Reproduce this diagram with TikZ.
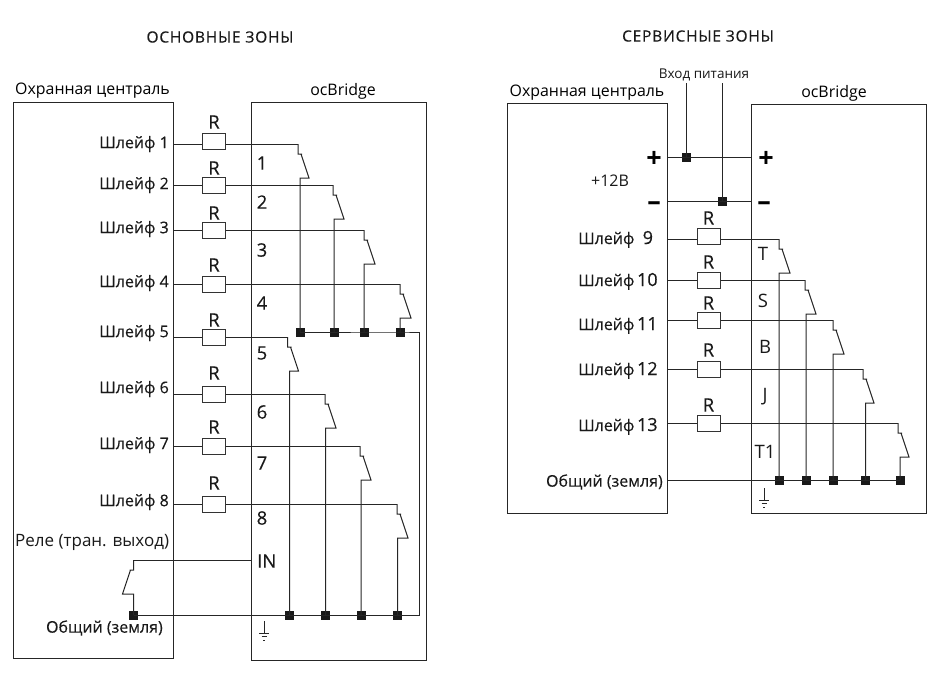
\documentclass[tikz,border=0pt]{standalone}
\usepackage{fontspec}
\setmainfont{Open Sans}
\tikzset{
    wire/.style={line width=1pt, black!85},
    box/.style={line width=0.9pt, black!85},
    res/.style={draw=black!80, line width=1pt, fill=white, minimum width=23pt, minimum height=16pt, inner sep=0pt},
    junction/.style={fill=black!90, minimum size=9pt, inner sep=0pt},
    txt/.style={font=\fontsize{16}{16}\selectfont\addfontfeature{FakeBold=0.25}, inner sep=0pt, text=black!90},
    tag/.style={font=\fontsize{18.5}{18.5}\selectfont\addfontfeature{FakeBold=0.25}, inner sep=0pt, text=black!90},
    head/.style={font=\fontsize{15.9}{16}\selectfont, inner sep=0pt, text=black},
    title/.style={font=\fontsize{15.5}{16}\selectfont\addfontfeature{LetterSpace=5,FakeBold=0.25}, inner sep=0pt, text=black!90},
    sign/.style={font=\fontsize{27}{27}\selectfont\bfseries, inner sep=0pt}
}
% contact: top point, junction below it, direction of the slant
\newcommand{\contact}[3]{
    \path (#1) ++(#3*11,34) coordinate (#1e);
    \draw[wire] (#1) -- ++(0,10) -- ++(#3*4,0) ++(-#3*1,0) -- (#1e) -- (#1e -| #2) -- (#2.center);
}
\newcommand{\groundsym}[1]{
    \draw[wire] (#1) -- ++(0,12) ++(-5,0) -- ++(10,0) ++(-7.5,3.5) -- ++(5,0) ++(-3.5,3.5) -- ++(2,0);
}
\begin{document}
\begin{tikzpicture}[x=1pt,y=-1pt]
    \useasboundingbox (0,0) rectangle (940,689);

    % Headers
    \node[title] (title1) at (220,37) {ОСНОВНЫЕ ЗОНЫ};
    \node[title] (title2) at (698,36) {СЕРВИСНЫЕ ЗОНЫ};

    % Draw Left Boxes
    \draw[box] (13,102) rectangle (173,658);
    \draw[box] (251,102) rectangle (426,660);
    \node[head, anchor=west] (panel1) at (15,91) {Охранная централь};
    \node[head] (bridge1) at (343,91) {ocBridge};

    % -- junctions of the main zones
    \foreach \n/\x/\y in {1/300/332,2/334/332,3/364/332,4/400/332,5/289.5/615,6/325.5/615,7/361/615,8/397.5/615,a/133.5/615}
        \node[junction] (q\n) at (\x,\y) {};
    \coordinate (c1) at (419,332);
    \coordinate (c2) at (419,615);

    % -- main zones
    \foreach \n/\y/\ry/\ly/\sx/\rt/\ty in {
        1/144/141/144/298/122/163, 2/185/185/185/333/168/202, 3/230/230/229/364/213/250,
        4/284/284/283/400/265/303, 5/337/337/333/287.5/320/353, 6/394/394/389/325/373/412,
        7/446/446/445/360/427/463, 8/504/504/502/397/483/518}{
        \coordinate (z\n) at (173,\y);
        \coordinate (s\n) at (\sx,\y);
        \node[res] (r\n) at (214,\ry) {};
        \node[txt, anchor=east] (l\n) at (169,\ly) {Шлейф \n};
        \node[tag] (rl\n) at (214,\rt) {R};
        \node[tag] (t\n) at (262,\ty) {\n};
        \draw[wire] (z\n) -- (r\n.west |- z\n);
        \draw[wire] (r\n.east |- z\n) -- (s\n);
        \contact{s\n}{q\n}{1}
    }

    % -- relay and common wire
    \node[txt, anchor=west, font=\fontsize{17}{17}\selectfont] (relay) at (15,542) {Реле (тран. выход)};
    \node[tag, anchor=west] (inlabel) at (257,561) {IN};
    \node[txt, anchor=east] (common1) at (163,628) {Общий (земля)};
    \coordinate (in) at (251,560);
    \coordinate (sa) at (133.5,560);
    \draw[wire] (in) -- (sa);
    \contact{sa}{qa}{-1}
    \draw[wire] (q1.center) -- (q4.center) -- (c1) -- (c2) -- (qa.center);
    \coordinate (g1) at (264,621);
    \groundsym{g1}

    % Draw Right Boxes
    \draw[box] (507,103) rectangle (667,513);
    \draw[box] (751,104) rectangle (926,513);
    \node[head] (panel2) at (587,93) {Охранная централь};
    \node[head] (bridge2) at (834,93) {ocBridge};

    % -- power input
    \node[txt, font=\fontsize{13.5}{14}\selectfont] (power) at (704,75) {Вход питания};
    \node[junction] (qp) at (686,157) {};
    \node[junction] (qm) at (722,201) {};
    \coordinate (pa) at (686,83);
    \coordinate (pb) at (722,83);
    \coordinate (pl) at (667,157);
    \coordinate (pr) at (751,157);
    \coordinate (ml) at (667,201);
    \coordinate (mr) at (751,201);
    \draw[wire] (pa) -- (qp.center);
    \draw[wire] (pb) -- (qm.center);
    \draw[wire] (pl) -- (pr);
    \draw[wire] (ml) -- (mr);
    \node[sign] (plus1) at (654,159) {+};
    \node[sign] (plus2) at (766,159) {+};
    \node[sign] (minus1) at (654,206) {–};
    \node[sign] (minus2) at (764,206) {–};
    \node[txt, font=\fontsize{16}{16}\selectfont] (volt) at (610,181) {+12В};

    % -- junctions of the service zones
    \foreach \n/\x in {9/779,10/806,11/833,12/865.5,13/900}
        \node[junction] (q\n) at (\x,480) {};
    \coordinate (zg) at (667,480);

    % -- service zones
    \foreach \n/\y/\ry/\ly/\sx/\rt/\tx/\ty/\tlab in {
        9/239/236/238/779/218/763/254/T, 10/280/280/280/805/262/763/301/S,
        11/320/320/324/833/303/765/347/B, 12/369/369/369/863/350/765/397/J,
        13/423/423/425/898/405/765/452/T1}{
        \coordinate (z\n) at (667,\y);
        \coordinate (s\n) at (\sx,\y);
        \node[res] (r\n) at (708.5,\ry) {};
        \node[txt, anchor=base west] (l\n) at (578,\ly+6) {Шлейф\ifnum\n=9\ \ \else\,\fi{\fontsize{18}{18}\selectfont\n}};
        \node[tag] (rl\n) at (708.5,\rt) {R};
        \node[tag, font=\fontsize{18.5}{18.5}\selectfont] (t\n) at (\tx,\ty) {\tlab};
        \draw[wire] (z\n) -- (r\n.west |- z\n);
        \draw[wire] (r\n.east |- z\n) -- (s\n);
        \contact{s\n}{q\n}{1}
    }

    % -- common wire
    \node[txt, anchor=east] (common2) at (663,482) {Общий (земля)};
    \draw[wire] (zg) -- (q13.center);
    \coordinate (g2) at (764,488);
    \groundsym{g2}
\end{tikzpicture}
\end{document}
